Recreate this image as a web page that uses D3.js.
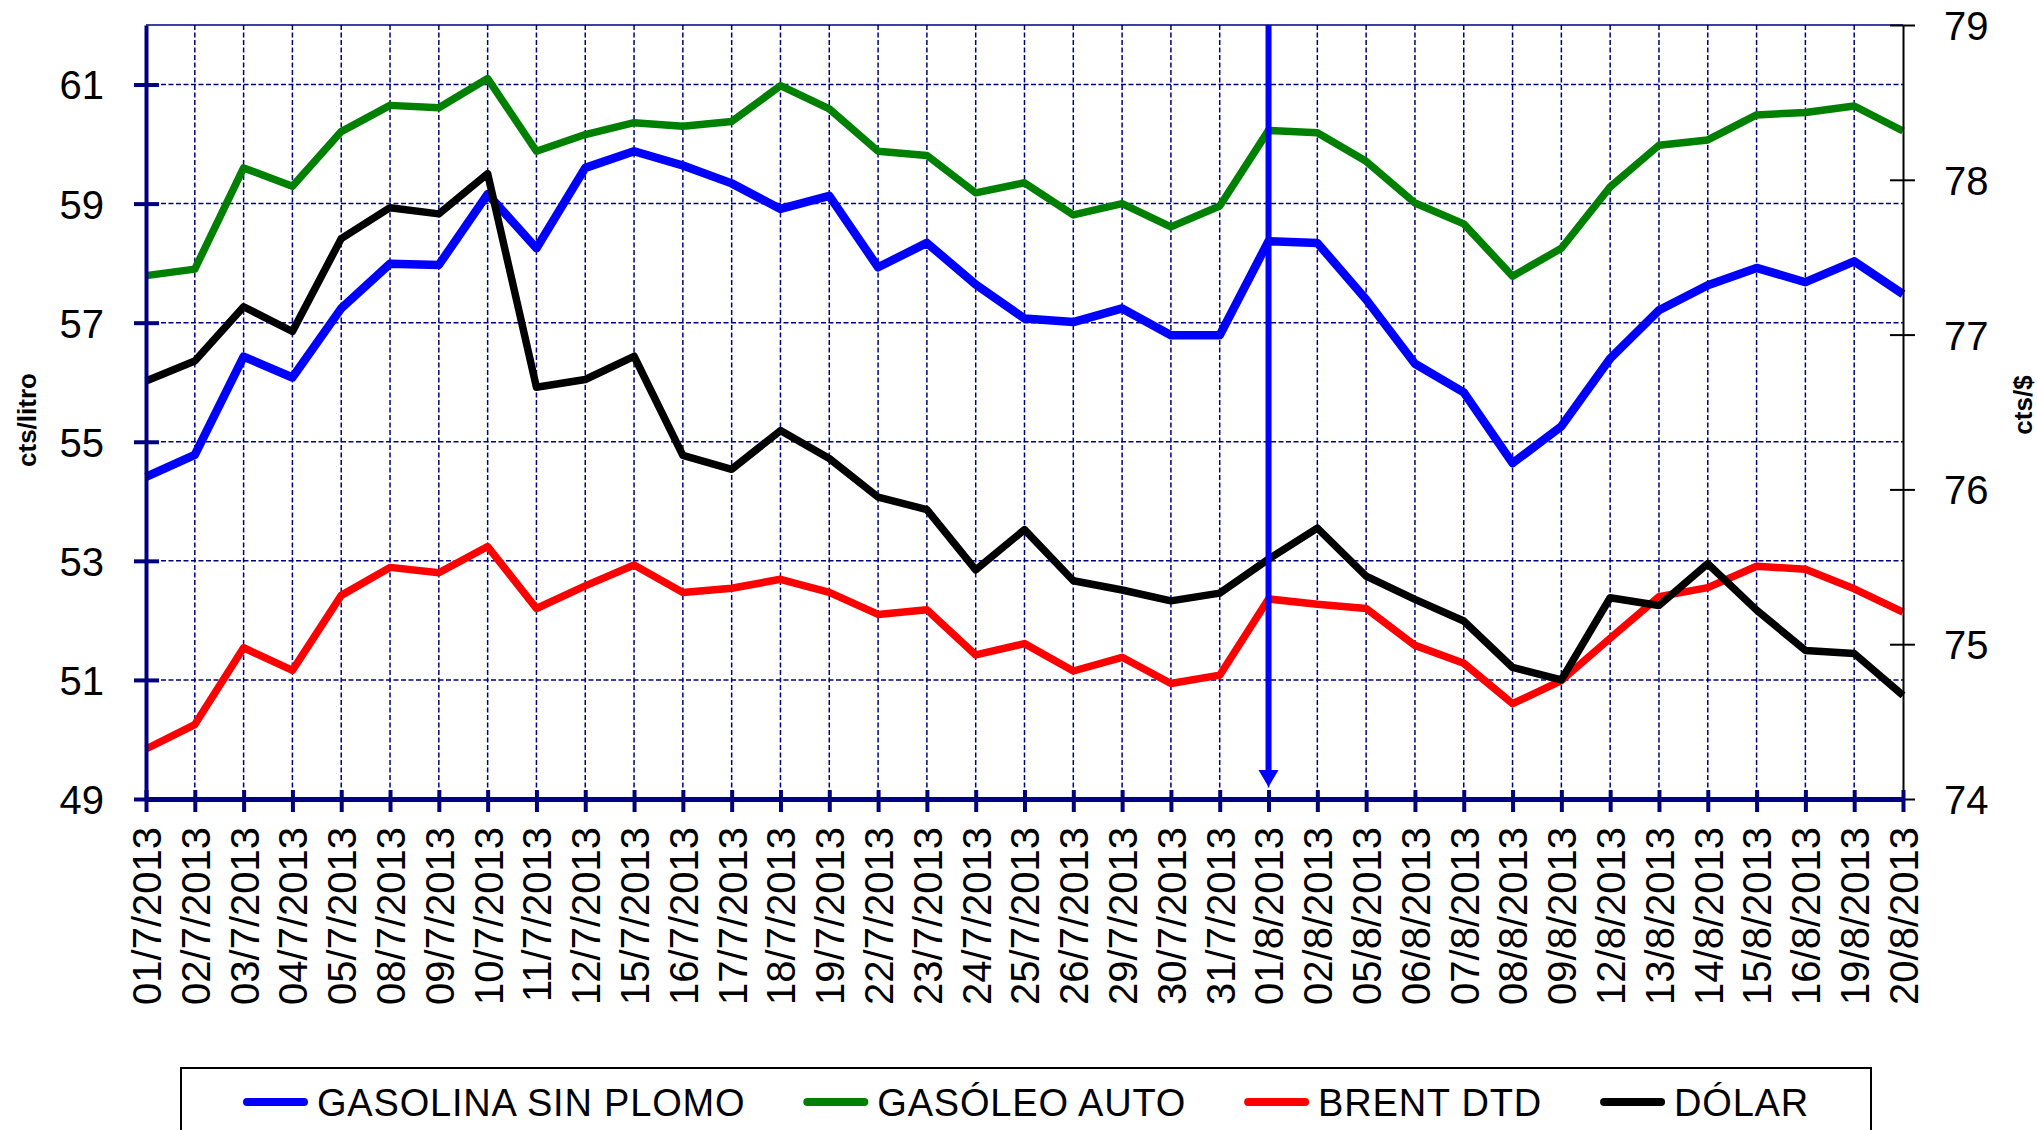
<!DOCTYPE html>
<html>
<head>
<meta charset="utf-8">
<script src="https://cdn.jsdelivr.net/npm/d3@7"></script>
<style>
  body { margin: 0; background: #fff; }
  svg { display: block; font-family: "Liberation Sans", Arial, sans-serif; }
</style>
</head>
<body>
<svg id="chart"></svg>
<script>
const dates = ['01/7/2013', '02/7/2013', '03/7/2013', '04/7/2013', '05/7/2013', '08/7/2013', '09/7/2013',
  '10/7/2013', '11/7/2013', '12/7/2013', '15/7/2013', '16/7/2013', '17/7/2013', '18/7/2013', '19/7/2013',
  '22/7/2013', '23/7/2013', '24/7/2013', '25/7/2013', '26/7/2013', '29/7/2013', '30/7/2013', '31/7/2013',
  '01/8/2013', '02/8/2013', '05/8/2013', '06/8/2013', '07/8/2013', '08/8/2013', '09/8/2013', '12/8/2013',
  '13/8/2013', '14/8/2013', '15/8/2013', '16/8/2013', '19/8/2013', '20/8/2013'];

// cts/litro (left axis)
const gasolina = [54.41, 54.78, 56.43, 56.08, 57.24, 57.99, 57.97, 59.16, 58.25, 59.60, 59.88, 59.64, 59.34,
  58.91, 59.13, 57.93, 58.34, 57.64, 57.07, 57.01, 57.24, 56.79, 56.79, 58.37, 58.34, 57.39, 56.31, 55.83,
  54.64, 55.26, 56.40, 57.21, 57.63, 57.92, 57.68, 58.03, 57.48];
const gasoleo = [57.79, 57.90, 59.60, 59.29, 60.21, 60.65, 60.61, 61.10, 59.88, 60.16, 60.36, 60.30, 60.38,
  60.98, 60.59, 59.88, 59.81, 59.18, 59.35, 58.81, 59.00, 58.61, 58.96, 60.23, 60.19, 59.71, 59.01, 58.66,
  57.78, 58.25, 59.28, 59.98, 60.07, 60.49, 60.53, 60.64, 60.22];
const brent = [49.84, 50.25, 51.54, 51.16, 52.42, 52.89, 52.80, 53.24, 52.20, 52.58, 52.93, 52.47, 52.54,
  52.69, 52.47, 52.10, 52.18, 51.42, 51.61, 51.15, 51.38, 50.94, 51.08, 52.36, 52.27, 52.20, 51.58, 51.28,
  50.60, 50.99, 51.70, 52.40, 52.55, 52.91, 52.86, 52.53, 52.14];
// cts/$ (right axis)
const dolar = [76.70, 76.83, 77.18, 77.02, 77.62, 77.82, 77.78, 78.04, 76.66, 76.71, 76.86, 76.22, 76.13,
  76.38, 76.20, 75.95, 75.87, 75.48, 75.74, 75.41, 75.35, 75.28, 75.33, 75.55, 75.75, 75.44, 75.29, 75.15,
  74.85, 74.77, 75.30, 75.25, 75.52, 75.22, 74.96, 74.94, 74.67];

const leftTicks = [49, 51, 53, 55, 57, 59, 61];
const rightTicks = [74, 75, 76, 77, 78, 79];
const markerDate = '01/8/2013';

const series = [
  { name: 'GASOLINA SIN PLOMO', values: gasolina, color: '#0000ff', axis: 'left', width: 8.5 },
  { name: 'GASÓLEO AUTO', values: gasoleo, color: '#008000', axis: 'left', width: 7.5 },
  { name: 'BRENT DTD', values: brent, color: '#ff0000', axis: 'left', width: 7.5 },
  { name: 'DÓLAR', values: dolar, color: '#000000', axis: 'right', width: 7.5 }
];

const W = 2037, H = 1130;
const margin = { top: 25, right: 134, bottom: 331, left: 146 };
const navy = '#000080';

const svg = d3.select('#chart')
  .attr('width', W)
  .attr('height', H);

const x = d3.scalePoint()
  .domain(dates)
  .range([margin.left, W - margin.right])
  .padding(0);

const yL = d3.scaleLinear()
  .domain([49, 62])
  .range([H - margin.bottom, margin.top]);

const yR = d3.scaleLinear()
  .domain([74, 79])
  .range([H - margin.bottom, margin.top]);

const x0 = margin.left, x1 = W - margin.right;
const yTop = margin.top, yBot = H - margin.bottom;

// grid
const grid = svg.append('g')
  .attr('stroke', navy)
  .attr('stroke-width', 1.5)
  .attr('stroke-dasharray', '5,2.5');

grid.selectAll('line.h')
  .data(leftTicks.filter(d => d > 49))
  .enter()
  .append('line')
  .attr('x1', x0).attr('x2', x1)
  .attr('y1', d => yL(d)).attr('y2', d => yL(d));

grid.selectAll('line.v')
  .data(dates.slice(1, -1))
  .enter()
  .append('line')
  .attr('x1', d => x(d)).attr('x2', d => x(d))
  .attr('y1', yTop).attr('y2', yBot);

svg.append('line')
  .attr('x1', x0).attr('x2', x1)
  .attr('y1', yTop).attr('y2', yTop)
  .attr('stroke', navy)
  .attr('stroke-width', 1.5);

// lines
series.forEach(s => {
  const y = s.axis === 'left' ? yL : yR;
  const line = d3.line()
    .x((d, i) => x(dates[i]))
    .y(d => y(d));
  svg.append('path')
    .datum(s.values)
    .attr('d', line)
    .attr('fill', 'none')
    .attr('stroke', s.color)
    .attr('stroke-width', s.width)
    .attr('stroke-linejoin', 'round');
});

// marker arrow
const ax = x(markerDate);
svg.append('line')
  .attr('x1', ax).attr('x2', ax)
  .attr('y1', yTop).attr('y2', yBot - 28)
  .attr('stroke', '#0000ff')
  .attr('stroke-width', 6);
svg.append('path')
  .attr('d', `M${ax - 10},${yBot - 29}L${ax + 10},${yBot - 29}L${ax},${yBot - 12}Z`)
  .attr('fill', '#0000ff');

// left axis
const gl = svg.append('g')
  .attr('transform', `translate(${x0},0)`)
  .call(d3.axisLeft(yL).tickValues(leftTicks).tickSize(12).tickSizeOuter(0).tickPadding(30));
gl.select('.domain').attr('stroke', navy).attr('stroke-width', 4);
gl.selectAll('.tick line').attr('x1', 13).attr('stroke', navy).attr('stroke-width', 4);
gl.selectAll('.tick text')
  .attr('font-size', 40)
  .attr('font-family', '"Liberation Sans", Arial, sans-serif')
  .attr('fill', '#000')
  .attr('dy', '0.36em');

// right axis
const gr = svg.append('g')
  .attr('transform', `translate(${x1},0)`)
  .call(d3.axisRight(yR).tickValues(rightTicks).tickFormat(d3.format('d'))
    .tickSize(12).tickSizeOuter(0).tickPadding(29));
gr.select('.domain').attr('stroke', '#000').attr('stroke-width', 2);
gr.selectAll('.tick line').attr('x1', -13).attr('stroke', '#000').attr('stroke-width', 2);
gr.selectAll('.tick text')
  .attr('font-size', 40)
  .attr('font-family', '"Liberation Sans", Arial, sans-serif')
  .attr('fill', '#000')
  .attr('dy', '0.36em');

// bottom axis
const gb = svg.append('g')
  .attr('transform', `translate(0,${yBot})`)
  .call(d3.axisBottom(x).tickSize(13).tickSizeOuter(0));
gb.select('.domain').attr('stroke', navy).attr('stroke-width', 5);
gb.selectAll('.tick line').attr('y1', -9).attr('stroke', navy).attr('stroke-width', 4);
gb.selectAll('.tick text')
  .attr('font-size', 40)
  .attr('font-family', '"Liberation Sans", Arial, sans-serif')
  .attr('fill', '#000')
  .attr('text-anchor', 'end')
  .attr('transform', 'rotate(-90)')
  .attr('x', -28)
  .attr('y', 0)
  .attr('dy', '0.36em');

// axis titles
svg.append('text')
  .attr('transform', 'translate(27,420) rotate(-90)')
  .attr('text-anchor', 'middle')
  .attr('dy', '0.36em')
  .attr('font-size', 26)
  .attr('font-weight', 'bold')
  .text('cts/litro');

svg.append('text')
  .attr('transform', 'translate(2023,405) rotate(-90)')
  .attr('text-anchor', 'middle')
  .attr('dy', '0.36em')
  .attr('font-size', 26)
  .attr('font-weight', 'bold')
  .text('cts/$');

// legend
svg.append('rect')
  .attr('x', 181).attr('y', 1068)
  .attr('width', 1690).attr('height', 80)
  .attr('fill', 'none')
  .attr('stroke', '#000')
  .attr('stroke-width', 2);

let lx = 243;
series.forEach(s => {
  const g = svg.append('g').attr('transform', `translate(${lx},1102)`);
  g.append('line')
    .attr('x1', 4).attr('x2', 61)
    .attr('stroke', s.color)
    .attr('stroke-width', 8)
    .attr('stroke-linecap', 'round');
  const t = g.append('text')
    .attr('x', 74)
    .attr('y', 14)
    .attr('font-size', 38)
    .attr('letter-spacing', 0.8)
    .text(s.name);
  lx += 74 + t.node().getComputedTextLength() + 58;
});
</script>
</body>
</html>
